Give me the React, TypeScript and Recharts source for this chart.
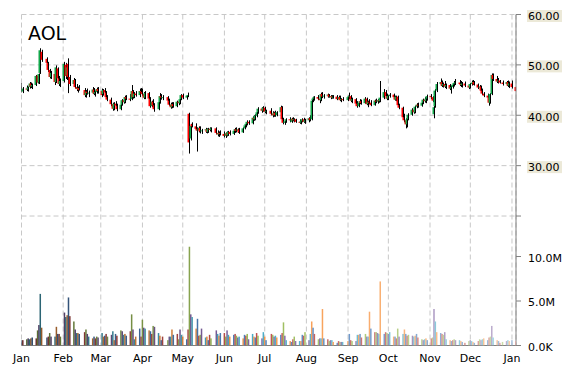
import { ComposedChart, Bar, XAxis, YAxis, CartesianGrid, Cell } from "recharts";

// rows: [day, open, high, low, close, volume (millions)]
type Row = number[];

const jan: Row[] = [
  [2, 46.2, 46.4, 44.5, 44.7, 0.6], [3, 44.7, 45.6, 44.4, 45.3, 0.6], [6, 45.3, 45.9, 44.8, 45.1, 0.7],
  [7, 45.1, 45.7, 44.7, 45.5, 0.8], [8, 45.6, 46.6, 45.3, 46.3, 0.7], [9, 46.3, 46.5, 45.4, 45.7, 0.8],
  [10, 45.7, 46.3, 45.2, 46.0, 0.9], [13, 46.0, 48.0, 45.8, 47.8, 0.8], [14, 47.9, 48.0, 46.3, 46.5, 1.7],
  [15, 46.5, 48.3, 46.2, 48.2, 2.3], [16, 48.4, 53.3, 48.2, 52.9, 5.8], [17, 52.6, 53.0, 50.6, 51.0, 2.0],
  [21, 51.2, 51.5, 50.0, 50.4, 0.9], [22, 50.4, 50.6, 48.6, 49.0, 1.0], [23, 49.0, 49.2, 47.3, 47.6, 1.4],
  [24, 47.6, 48.8, 47.2, 48.4, 1.0], [27, 48.2, 48.5, 46.0, 46.6, 1.0], [28, 46.6, 49.9, 46.4, 49.5, 2.1],
  [29, 49.3, 49.5, 47.0, 47.3, 1.3], [30, 47.3, 47.8, 45.8, 46.2, 1.3], [31, 46.2, 47.3, 45.6, 46.8, 1.0],
];
const feb: Row[] = [
  [3, 46.8, 50.6, 46.5, 50.2, 3.7], [4, 50.0, 50.4, 47.2, 47.8, 3.2], [5, 47.9, 49.8, 47.0, 49.5, 3.4],
  [6, 50.2, 51.3, 44.4, 47.6, 5.4], [7, 47.6, 48.0, 45.8, 46.2, 3.3], [10, 46.2, 47.4, 45.6, 47.0, 2.7],
  [11, 47.0, 47.2, 45.3, 45.6, 1.8], [12, 45.6, 46.2, 44.8, 45.2, 1.4], [13, 45.2, 45.7, 44.5, 45.4, 1.4],
  [14, 45.4, 46.0, 44.9, 45.0, 1.3], [18, 45.0, 45.4, 43.6, 44.0, 1.5], [19, 44.0, 45.0, 43.5, 44.7, 1.8],
  [20, 44.7, 45.3, 44.1, 44.4, 1.3], [21, 44.4, 44.9, 43.6, 44.5, 1.0], [24, 44.5, 45.6, 44.2, 45.1, 0.8],
  [25, 45.1, 45.4, 44.0, 44.3, 1.0], [26, 44.3, 44.9, 43.7, 44.6, 0.8], [27, 44.6, 45.5, 44.3, 45.2, 1.0],
  [28, 45.2, 45.6, 44.3, 44.8, 0.9],
];
const mar: Row[] = [
  [3, 44.8, 45.3, 43.6, 44.0, 1.4], [4, 44.2, 45.2, 43.9, 45.0, 1.0], [5, 45.0, 45.4, 44.2, 44.5, 1.1],
  [6, 44.5, 44.8, 43.3, 43.6, 1.3], [7, 43.6, 44.0, 42.8, 43.1, 1.0], [10, 43.1, 43.5, 41.8, 42.2, 1.2],
  [11, 42.2, 42.5, 40.9, 41.3, 1.6], [12, 41.3, 42.6, 41.0, 42.3, 0.6], [13, 42.3, 42.8, 41.6, 41.9, 1.3],
  [14, 41.9, 42.3, 40.8, 41.2, 1.1], [17, 41.2, 42.4, 41.0, 42.1, 1.7], [18, 42.1, 43.2, 41.9, 43.0, 1.6],
  [19, 43.0, 43.6, 42.3, 42.6, 1.2], [20, 42.6, 43.9, 42.4, 43.6, 1.3], [21, 43.6, 44.0, 43.0, 43.3, 1.1],
  [24, 43.3, 44.2, 42.8, 43.2, 1.6], [25, 43.2, 46.0, 43.0, 44.8, 3.5], [26, 44.8, 45.0, 43.3, 43.6, 1.8],
  [27, 43.6, 44.6, 43.4, 44.3, 0.7], [28, 44.3, 44.8, 43.7, 44.0, 1.0], [31, 44.0, 45.3, 43.6, 44.8, 1.9],
];
const apr: Row[] = [
  [1, 44.8, 45.4, 44.3, 44.6, 1.0], [2, 44.6, 45.3, 43.9, 44.2, 2.9], [3, 44.2, 44.6, 43.2, 43.5, 2.0],
  [4, 43.5, 44.8, 43.2, 44.4, 1.9], [7, 44.4, 44.6, 43.0, 43.3, 1.7], [8, 43.3, 43.6, 41.5, 41.8, 1.6],
  [9, 41.8, 42.9, 41.6, 42.7, 1.3], [10, 42.7, 43.2, 41.8, 42.0, 2.2], [11, 42.0, 42.4, 40.7, 41.2, 2.1],
  [14, 41.2, 42.8, 41.0, 42.6, 1.4], [15, 42.6, 44.4, 42.3, 43.8, 1.1], [16, 43.8, 44.2, 43.1, 43.5, 0.6],
  [17, 43.5, 44.0, 43.0, 43.6, 1.0], [21, 43.6, 43.8, 42.6, 42.9, 0.6], [22, 42.9, 43.3, 41.9, 42.1, 1.0],
  [23, 42.1, 42.5, 41.3, 41.6, 1.0], [24, 41.6, 42.6, 41.4, 42.2, 1.8], [25, 42.2, 42.6, 41.5, 41.8, 1.2],
  [28, 41.8, 42.9, 41.6, 42.7, 1.3], [29, 42.7, 43.0, 42.0, 42.4, 0.7], [30, 42.4, 43.4, 42.2, 43.2, 1.8],
];
const may: Row[] = [
  [1, 43.2, 44.2, 43.0, 44.0, 1.2], [2, 44.0, 44.3, 43.2, 43.5, 1.0], [5, 43.5, 44.0, 43.1, 43.9, 0.7],
  [6, 43.9, 44.5, 43.6, 44.0, 1.8], [7, 40.3, 40.5, 32.4, 34.6, 11.1], [8, 35.4, 38.3, 35.0, 37.9, 3.5],
  [9, 38.2, 38.6, 37.6, 37.8, 3.2], [12, 37.8, 38.4, 37.0, 37.3, 1.9], [13, 37.3, 37.6, 32.8, 37.0, 3.0],
  [14, 37.0, 37.8, 36.6, 37.5, 1.1], [15, 37.5, 37.8, 36.4, 36.8, 1.2], [16, 36.8, 37.3, 36.3, 37.0, 1.9],
  [19, 37.0, 37.5, 36.5, 37.2, 0.9], [20, 37.2, 37.4, 36.4, 36.7, 1.0], [21, 36.7, 37.5, 36.5, 37.3, 0.6],
  [22, 37.3, 37.6, 36.8, 37.1, 1.2], [23, 37.1, 37.6, 36.6, 37.4, 0.8], [27, 37.4, 37.6, 36.2, 36.5, 1.7],
  [28, 36.5, 37.0, 35.8, 36.2, 1.3], [29, 36.2, 36.8, 35.7, 36.5, 1.1], [30, 36.5, 37.0, 36.0, 36.3, 1.4],
];
const jun: Row[] = [
  [2, 36.3, 36.8, 35.6, 35.9, 1.4], [3, 35.9, 36.6, 35.5, 36.4, 1.0], [4, 36.4, 36.8, 35.8, 36.0, 1.7],
  [5, 36.0, 36.9, 35.9, 36.7, 1.2], [6, 36.7, 37.0, 36.0, 36.3, 1.0], [9, 36.3, 37.2, 36.1, 36.9, 1.2],
  [10, 36.9, 37.5, 36.5, 37.2, 1.3], [11, 37.2, 37.6, 36.6, 36.9, 1.1], [12, 36.9, 37.4, 36.5, 37.2, 0.9],
  [13, 37.2, 37.5, 36.3, 36.6, 1.0], [16, 36.6, 37.6, 36.5, 37.4, 0.8], [17, 37.4, 38.2, 37.2, 38.0, 1.2],
  [18, 38.0, 38.6, 37.6, 38.3, 1.1], [19, 38.3, 39.0, 38.0, 38.7, 1.3], [20, 38.7, 39.0, 38.1, 38.4, 0.7],
  [23, 38.4, 39.8, 38.2, 39.5, 1.3], [24, 39.5, 40.0, 38.9, 39.2, 1.0], [25, 39.2, 40.2, 39.0, 39.9, 0.9],
  [26, 39.9, 40.9, 39.6, 40.6, 1.4], [27, 40.6, 41.6, 40.3, 41.3, 1.1], [30, 41.3, 41.6, 40.5, 40.9, 0.8],
];
const jul: Row[] = [
  [1, 40.9, 41.8, 40.7, 41.5, 1.5], [2, 41.5, 41.7, 40.4, 40.7, 1.0], [3, 40.7, 41.1, 40.2, 40.9, 0.6],
  [7, 40.9, 41.4, 40.0, 40.3, 1.3], [8, 40.3, 40.8, 39.6, 40.0, 1.2], [9, 40.0, 40.7, 39.7, 40.5, 1.0],
  [10, 40.5, 40.9, 39.7, 40.0, 1.1], [11, 40.0, 40.8, 39.8, 40.6, 0.9], [14, 40.6, 41.9, 40.4, 41.6, 1.2],
  [15, 41.6, 41.8, 38.9, 39.2, 1.4], [16, 39.2, 39.5, 38.2, 38.5, 2.6], [17, 38.5, 39.0, 38.1, 38.8, 1.1],
  [18, 38.8, 39.4, 38.5, 39.2, 0.6], [21, 39.2, 39.6, 38.6, 39.0, 0.5], [22, 38.7, 39.5, 38.5, 39.3, 0.4],
  [23, 39.3, 39.6, 38.8, 39.0, 0.7], [24, 39.0, 39.4, 38.6, 39.2, 1.0], [25, 39.2, 39.3, 38.5, 38.7, 0.5],
  [28, 38.7, 39.2, 38.3, 38.5, 0.5], [29, 38.5, 39.0, 38.2, 38.8, 0.5], [30, 38.8, 39.4, 38.6, 39.2, 1.2],
  [31, 39.2, 39.5, 38.5, 38.7, 1.1],
];
const aug: Row[] = [
  [1, 38.7, 39.3, 38.3, 39.0, 1.5], [4, 39.0, 39.6, 38.6, 39.4, 0.6], [5, 39.4, 40.0, 38.8, 39.1, 1.3],
  [6, 39.2, 43.3, 39.0, 42.9, 2.7], [7, 43.0, 43.7, 42.6, 43.3, 2.0], [8, 43.3, 43.8, 42.9, 43.6, 1.3],
  [11, 43.6, 44.0, 43.0, 43.3, 0.7], [12, 43.3, 43.7, 42.4, 43.0, 0.8], [13, 43.0, 44.5, 42.8, 44.2, 0.8],
  [14, 44.2, 44.6, 43.4, 43.7, 4.1], [15, 43.7, 44.2, 43.3, 43.9, 0.8], [18, 43.9, 44.3, 43.5, 44.1, 0.7],
  [19, 44.1, 44.2, 43.5, 43.7, 0.5], [20, 43.7, 44.0, 43.2, 43.8, 0.6], [21, 43.8, 44.0, 43.3, 43.5, 0.6],
  [22, 43.5, 44.0, 43.3, 43.7, 0.4], [25, 43.7, 44.0, 43.0, 43.2, 0.3], [26, 43.2, 43.9, 43.1, 43.6, 0.5],
  [27, 43.6, 43.9, 42.8, 43.0, 0.4], [28, 43.0, 43.4, 42.6, 43.2, 0.4], [29, 43.2, 43.6, 42.8, 43.0, 0.4],
];
const sep: Row[] = [
  [2, 43.0, 43.9, 42.8, 43.6, 0.5], [3, 43.6, 44.5, 43.2, 43.8, 1.3], [4, 43.8, 44.0, 42.6, 42.9, 0.6],
  [5, 42.9, 43.5, 42.4, 43.2, 0.5], [8, 43.2, 43.4, 41.9, 42.3, 0.5], [9, 42.3, 42.8, 41.5, 41.8, 1.2],
  [10, 41.8, 42.7, 41.6, 42.5, 1.2], [11, 42.5, 43.2, 42.2, 42.8, 1.3], [12, 42.8, 43.1, 42.1, 42.4, 0.9],
  [15, 42.4, 43.6, 42.3, 43.3, 1.3], [16, 43.3, 43.5, 42.0, 42.2, 1.0], [17, 42.2, 42.9, 41.6, 42.7, 1.0],
  [18, 42.7, 43.2, 42.2, 42.5, 3.8], [19, 42.5, 43.0, 41.8, 42.0, 1.9], [22, 42.0, 43.1, 41.9, 42.9, 1.5],
  [23, 42.9, 43.3, 42.4, 42.7, 1.5], [24, 42.7, 43.2, 42.3, 43.0, 1.4], [25, 43.0, 43.4, 42.5, 42.8, 1.3],
  [26, 42.8, 46.8, 42.6, 43.5, 7.2], [29, 43.5, 45.2, 43.2, 44.6, 1.3], [30, 44.6, 45.0, 43.4, 43.8, 1.5],
];
const oct: Row[] = [
  [1, 43.8, 44.3, 43.0, 43.3, 1.4], [2, 43.3, 44.0, 43.0, 43.8, 1.3], [3, 43.8, 44.4, 43.5, 44.1, 1.5],
  [6, 44.1, 44.3, 43.4, 43.6, 1.0], [7, 43.6, 43.9, 42.9, 43.1, 1.0], [8, 43.1, 43.9, 42.8, 43.7, 0.8],
  [9, 43.7, 43.9, 41.7, 42.0, 1.9], [10, 42.0, 42.3, 41.2, 41.5, 1.0], [13, 41.5, 41.7, 39.3, 39.6, 1.3],
  [14, 39.6, 40.3, 38.6, 39.0, 1.8], [15, 39.0, 39.4, 37.4, 38.2, 1.3], [16, 38.2, 39.5, 37.6, 39.2, 1.1],
  [17, 39.2, 40.4, 39.0, 40.1, 1.2], [20, 40.1, 41.4, 39.9, 41.1, 1.1], [21, 41.1, 41.6, 40.3, 40.6, 1.0],
  [22, 40.6, 41.9, 40.4, 41.7, 1.1], [23, 41.7, 42.4, 41.4, 42.1, 1.3], [24, 42.1, 42.5, 41.5, 41.9, 0.9],
  [27, 41.9, 42.7, 41.7, 42.5, 0.7], [28, 42.5, 43.3, 42.2, 43.1, 0.6], [29, 43.1, 43.6, 42.5, 42.8, 0.7],
  [30, 42.8, 43.5, 42.4, 43.3, 0.8], [31, 43.3, 44.1, 42.9, 43.8, 0.6],
];
const nov: Row[] = [
  [3, 43.8, 44.2, 43.2, 43.6, 0.8], [4, 43.6, 43.8, 42.6, 42.9, 0.9], [5, 40.2, 42.6, 39.4, 41.6, 4.1],
  [6, 41.8, 45.2, 41.5, 44.9, 2.7], [7, 44.9, 46.6, 44.6, 46.2, 1.5], [10, 46.2, 47.3, 45.8, 46.6, 1.4],
  [11, 46.6, 46.9, 45.6, 45.9, 1.3], [12, 45.9, 46.5, 45.5, 46.2, 1.2], [13, 46.2, 46.8, 45.4, 45.7, 1.5],
  [14, 45.7, 46.3, 45.2, 46.0, 0.7], [17, 46.0, 46.2, 45.0, 45.3, 0.6], [18, 45.3, 45.9, 44.3, 45.6, 0.5],
  [19, 45.6, 46.4, 45.3, 46.1, 0.6], [20, 46.1, 46.8, 45.7, 46.4, 0.7], [21, 46.4, 47.2, 46.0, 46.5, 0.6],
  [24, 46.5, 47.0, 45.8, 46.2, 0.6], [25, 46.2, 46.8, 45.6, 46.0, 0.5], [26, 46.0, 46.6, 45.5, 46.3, 0.4],
  [28, 46.3, 46.7, 45.6, 45.9, 0.3],
];
const dec: Row[] = [
  [1, 45.9, 46.2, 45.2, 45.5, 0.5], [2, 45.5, 46.4, 45.3, 46.2, 0.6], [3, 46.2, 46.9, 45.9, 46.4, 0.5],
  [4, 46.4, 47.0, 46.0, 46.6, 0.4], [5, 46.6, 46.8, 45.9, 46.1, 0.3], [8, 46.1, 46.3, 45.2, 45.5, 0.5],
  [9, 45.5, 46.0, 44.9, 45.7, 0.7], [10, 45.7, 45.9, 44.6, 44.9, 0.6], [11, 44.9, 45.3, 44.0, 44.3, 0.7],
  [12, 44.3, 44.6, 43.6, 43.9, 0.8], [15, 43.9, 44.3, 43.2, 43.5, 0.6], [16, 43.5, 43.8, 41.9, 42.5, 0.9],
  [17, 42.5, 44.4, 42.3, 44.2, 1.0], [18, 44.2, 48.3, 44.0, 48.0, 2.2], [19, 48.0, 48.3, 46.8, 47.2, 0.9],
  [22, 47.2, 47.8, 46.4, 46.7, 0.6], [23, 46.7, 47.4, 46.3, 46.9, 0.5], [24, 46.9, 47.0, 46.3, 46.5, 0.3],
  [26, 46.5, 46.9, 45.9, 46.2, 0.4], [29, 46.2, 46.8, 45.8, 46.6, 0.5], [30, 46.6, 46.9, 45.6, 45.9, 0.6],
  [31, 45.9, 46.7, 45.4, 46.3, 0.5],
];
const jan15: Row[] = [
  [2, 46.3, 46.9, 45.3, 45.6, 0.6], [5, 45.6, 45.8, 44.5, 44.8, 0.5],
];

const months2014 = [jan, feb, mar, apr, may, jun, jul, aug, sep, oct, nov, dec];
const monthNames = ["Jan", "Feb", "Mar", "Apr", "May", "Jun", "Jul", "Aug", "Sep", "Oct", "Nov", "Dec", "Jan"];
const priceTicks = [20, 30, 40, 50, 60];
const volumeTicks = [0, 5, 10];

const UP = "#12a84b";
const DOWN = "#ff0000";
const WICK = "#000000";
const FONT = "DejaVu Sans, Verdana, sans-serif";
const volumeBase = ["#4f81bd", "#c0504d", "#9bbb59", "#8064a2", "#4bacc6", "#f79646"];

const DAY = 86400000;
const dayNum = (y: number, m: number, d: number) => (Date.UTC(y, m, d) - Date.UTC(2014, 0, 1)) / DAY;

// the source plots each session one day left of its calendar date
const toPoint = (y: number, m: number, r: Row) => {
  const [d, o, h, l, c, v] = r;
  return { x: dayNum(y, m, d) - 1, o, h, l, c, v, range: [l, h] };
};

const data = [
  ...months2014.flatMap((rows, m) => rows.map((r) => toPoint(2014, m, r))),
  ...jan15.map((r) => toPoint(2015, 0, r)),
];
const monthTicks = monthNames.map((_, i) => dayNum(2014, i, 1));
const lastX = data[data.length - 1].x;

// volume colours run from darker shades at the start to pastel at the end
const mix = (hex: string, f: number) => {
  const n = parseInt(hex.slice(1), 16);
  const ch = [(n >> 16) & 255, (n >> 8) & 255, n & 255].map((c) =>
    Math.round(f < 0 ? c * (1 + f) : c + (255 - c) * f)
  );
  return `rgb(${ch[0]},${ch[1]},${ch[2]})`;
};
const volumeColor = (i: number) => mix(volumeBase[i % 6], -0.45 + 0.95 * (i / (data.length - 1)));

const margin = { top: 14.5, right: 0, bottom: 0, left: 21.5 };

const Candle = (props: any) => {
  const { x, y, width, height, payload } = props;
  const { o, h, l, c } = payload;
  const cx = Math.round(x + width / 2);
  const top = Math.min(y, y + height);
  const span = Math.max(Math.abs(height), 1);
  const py = (v: number) => top + ((h - v) / (h - l || 1)) * span;
  const bTop = py(Math.max(o, c));
  const bBot = py(Math.min(o, c));
  const color = c > o ? UP : c < o ? DOWN : WICK;
  return (
    <g>
      <rect x={cx - 1.5} y={bTop} width={1.5} height={Math.max(1, bBot - bTop)} fill={color} />
      <rect x={cx} y={top} width={1} height={span} fill={WICK} />
    </g>
  );
};

const VolumeBar = (props: any) => {
  const { x, y, width, height, fill } = props;
  const cx = x + width / 2;
  return <rect x={cx - 0.75} y={y} width={1.5} height={Math.max(0, height)} fill={fill} />;
};

const PriceTick = ({ x, y, payload }: any) => {
  if (payload.value === 20) return <g />;
  return (
    <g>
      <rect x={x - 1} y={y - 4.5} width={35} height={12} fill="#ECE9D8" />
      <text x={x} y={y + 5.5} fontSize={11} fontFamily={FONT} fill="#000">
        {payload.value.toFixed(2)}
      </text>
    </g>
  );
};

const VolumeTick = ({ x, y, payload }: any) => (
  <text x={x} y={y + 5} fontSize={11} fontFamily={FONT} fill="#000">
    {payload.value === 0 ? "0.0K" : `${payload.value.toFixed(1)}M`}
  </text>
);

export default function App() {
  return (
    <div style={{ position: "absolute", left: 0, top: 0, width: 570, height: 370, background: "#fff" }}>
      <div style={{ position: "absolute", left: 0, top: 0 }}>
        <ComposedChart width={570} height={370} data={data} margin={margin}>
          <CartesianGrid stroke="#c8c8c8" strokeDasharray="5 3" />
          <XAxis
            dataKey="x"
            type="number"
            domain={[0, lastX]}
            ticks={monthTicks}
            interval={0}
            allowDataOverflow
            tickFormatter={(_v: number, i: number) => monthNames[i]}
            tickLine={false}
            axisLine={{ stroke: "#808080" }}
            height={24.5}
            tick={{ fill: "#000", fontSize: 11, fontFamily: FONT, dy: 0.5 }}
          />
          <YAxis
            orientation="right"
            width={54}
            type="number"
            domain={[-5.7, 60]}
            ticks={priceTicks}
            interval={0}
            allowDataOverflow
            tickSize={5}
            tickMargin={7}
            axisLine={{ stroke: "#808080" }}
            tickLine={{ stroke: "#808080" }}
            tick={<PriceTick />}
          />
          <Bar dataKey="range" shape={<Candle />} isAnimationActive={false} />
        </ComposedChart>
      </div>
      <div style={{ position: "absolute", left: 0, top: 0 }}>
        <ComposedChart width={570} height={370} data={data} margin={{ ...margin, bottom: 24.5 }}>
          <XAxis dataKey="x" type="number" domain={[0, lastX]} allowDataOverflow hide />
          <YAxis
            orientation="right"
            width={54}
            type="number"
            domain={[0, 37.2]}
            ticks={volumeTicks}
            interval={0}
            allowDataOverflow
            tickSize={5}
            tickMargin={7}
            axisLine={false}
            tickLine={{ stroke: "#808080" }}
            tick={<VolumeTick />}
          />
          <Bar dataKey="v" shape={<VolumeBar />} isAnimationActive={false}>
            {data.map((_, i) => (
              <Cell key={i} fill={volumeColor(i)} />
            ))}
          </Bar>
        </ComposedChart>
      </div>
      <svg width={120} height={50} style={{ position: "absolute", left: 0, top: 0 }}>
        <text x={28} y={39.5} fontSize={19} fontFamily={FONT} fill="#000">
          AOL
        </text>
      </svg>
    </div>
  );
}
